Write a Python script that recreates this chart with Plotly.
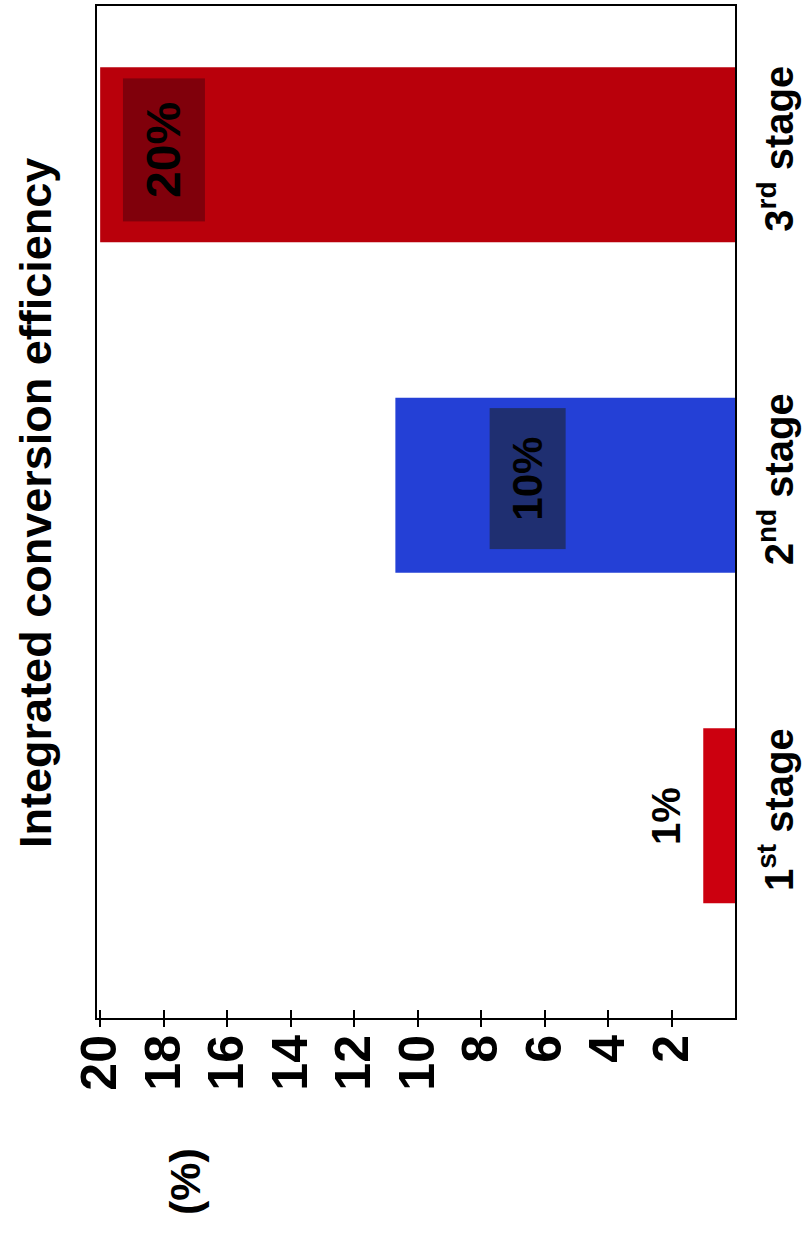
import plotly.graph_objects as go

# ---- data ----
stages = ["1st stage", "2nd stage", "3rd stage"]
stage_labels = ["1<sup>st</sup> stage", "2<sup>nd</sup> stage", "3<sup>rd</sup> stage"]
efficiency = [1.0, 10.7, 20.0]
value_labels = ["1%", "10%", "20%"]
tick_values = [2, 4, 6, 8, 10, 12, 14, 16, 18, 20]
tick_labels = ["2", "4", "6", "8", "10", "12", "14", "16", "18", "20"]

bar_colors = ["#CC000F", "#2440D6", "#B9000B"]
FONT = "Liberation Sans, Arial, sans-serif"

fig = go.Figure()
fig.add_trace(go.Bar(
    x=efficiency, y=stages, orientation="h",
    width=0.53,
    marker=dict(color=bar_colors, line=dict(width=0)),
    hoverinfo="skip",
    showlegend=False,
))
# invisible trace so the overlay axis (inner half of ticks) is drawn
fig.add_trace(go.Scatter(x=[efficiency[0]], y=[stages[0]], xaxis="x2",
                         mode="markers", marker=dict(opacity=0),
                         hoverinfo="skip", showlegend=False))

# value labels on the bars
label_style = [
    dict(xshift=-38, yshift=0, size=40, bg=None, w=None, h=None),
    dict(xshift=132, yshift=7, size=42, bg="rgba(30,45,95,0.85)", w=138, h=73),
    dict(xshift=64, yshift=5, size=48, bg="rgba(110,0,12,0.75)", w=140, h=79),
]
for v, s, t, st in zip(efficiency, stages, value_labels, label_style):
    ann = dict(x=v, y=s, xref="x", yref="y", text=f"<b>{t}</b>",
               showarrow=False, textangle=-90,
               xanchor="center", yanchor="middle",
               xshift=st["xshift"], yshift=st["yshift"],
               font=dict(family=FONT, size=st["size"], color="black"))
    if st["bg"]:
        ann.update(bgcolor=st["bg"], width=st["w"], height=st["h"], align="center")
    fig.add_annotation(**ann)

# title (rotated)
fig.add_annotation(x=0, y=0.509, xref="paper", yref="paper", xshift=-61,
                   text="<b>Integrated conversion efficiency</b>", showarrow=False,
                   textangle=-90, xanchor="center", yanchor="middle",
                   font=dict(family=FONT, size=45, color="black"))
# unit label
fig.add_annotation(x=0.138, y=-0.162, xref="paper", yref="paper",
                   text="<b>(%)</b>", showarrow=False, textangle=-90,
                   xanchor="center", yanchor="middle",
                   font=dict(family=FONT, size=43, color="black"))

fig.update_layout(
    width=807, height=1240,
    margin=dict(l=97, r=72, t=6, b=222, autoexpand=False),
    paper_bgcolor="white", plot_bgcolor="white",
    bargap=0.47,
    xaxis=dict(range=[20.1, 0], tickvals=tick_values, ticktext=tick_labels,
               tickangle=-90, ticks="outside", ticklen=7, tickwidth=2,
               tickcolor="black", showgrid=False, zeroline=False,
               showline=True, linecolor="black", linewidth=2, mirror=True,
               automargin=False,
               tickfont=dict(family=FONT, size=50, color="black", weight="bold"),
               ticklabelstandoff=-12),
    xaxis2=dict(range=[20.1, 0], tickvals=tick_values, overlaying="x", anchor="y",
                side="bottom", ticks="inside", ticklen=8, tickwidth=2,
                tickcolor="black", showticklabels=False, showgrid=False,
                zeroline=False, showline=False, automargin=False),
    yaxis=dict(range=[-0.612, 2.45], side="right", tickvals=stages,
               ticktext=stage_labels, tickangle=-90, ticks="",
               showgrid=False, zeroline=False, automargin=False,
               showline=True, linecolor="black", linewidth=2, mirror=True,
               tickfont=dict(family=FONT, size=40, color="black", weight="bold"),
               ticklabelstandoff=8),
)

fig.write_html("out.html")
